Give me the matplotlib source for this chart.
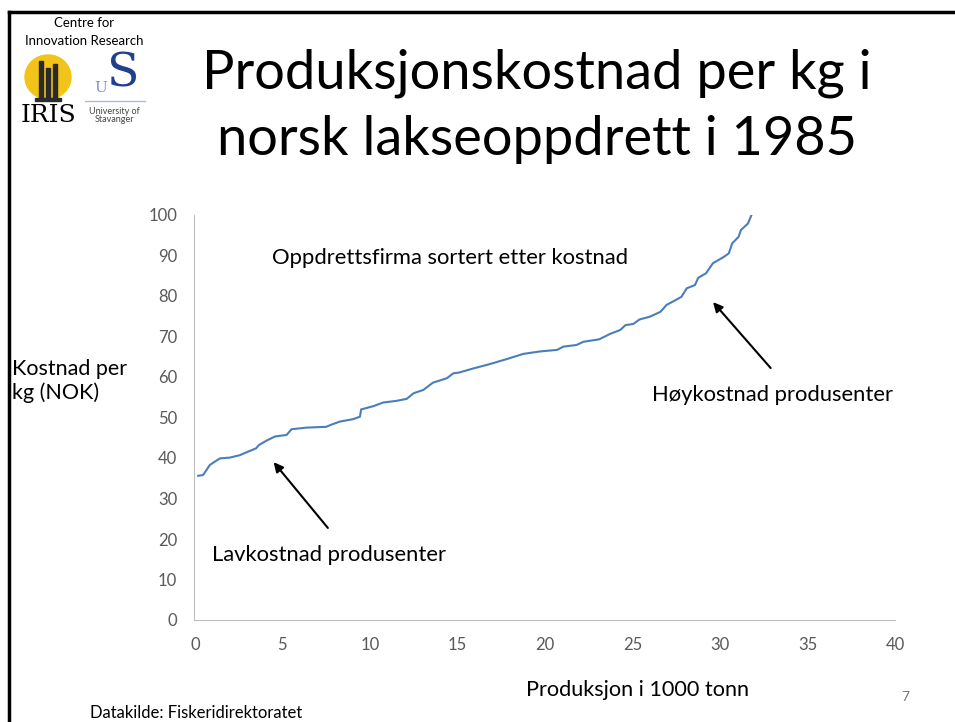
import matplotlib.pyplot as plt
from matplotlib.patches import Ellipse, Rectangle
from matplotlib.lines import Line2D

# production (1000 t), cumulative, and cost per kg (NOK)
prod = [0.19, 0.47, 0.86, 1.14, 1.43, 2.0, 2.57, 2.95, 3.5, 3.66, 4.1, 4.57, 5.24, 5.52,
        6.38, 7.5, 7.9, 8.29, 9.05, 9.43, 9.5, 10.2, 10.76, 11.5, 12.1, 12.5, 13.05,
        13.6, 14.4, 14.76, 15.1, 15.9, 16.86, 17.8, 18.76, 19.7, 20.7, 21.05, 21.8,
        22.2, 23.1, 23.7, 24.3, 24.6, 25.05, 25.4, 26.0, 26.6, 26.95, 27.3, 27.8,
        28.1, 28.57, 28.76, 29.2, 29.6, 30.2, 30.5, 30.7, 31.06, 31.2, 31.6, 31.8]
cost = [35.6, 35.8, 38.3, 39.1, 39.9, 40.1, 40.7, 41.4, 42.4, 43.2, 44.3, 45.3, 45.7, 47.1,
        47.5, 47.7, 48.4, 49.0, 49.6, 50.2, 52.0, 52.8, 53.7, 54.1, 54.6, 56.0, 56.8,
        58.6, 59.7, 60.9, 61.1, 62.1, 63.2, 64.4, 65.7, 66.3, 66.7, 67.5, 67.9,
        68.7, 69.3, 70.6, 71.6, 72.8, 73.1, 74.2, 74.9, 76.1, 77.8, 78.6, 79.8,
        81.9, 82.7, 84.5, 85.6, 88.1, 89.6, 90.5, 93.0, 94.6, 96.3, 97.9, 100.0]

xticks = [0, 5, 10, 15, 20, 25, 30, 35, 40]
yticks = [0, 10, 20, 30, 40, 50, 60, 70, 80, 90, 100]

plt.rcParams['font.family'] = ['Lato', 'DejaVu Sans']

W, H = 955, 722
fig = plt.figure(figsize=(W/100, H/100), dpi=100)

def fx(px):
    return px / W

def fy(py):
    return 1 - py / H

ax = fig.add_axes([fx(194), fy(620), fx(895) - fx(194), fy(215) - fy(620)])
ax.plot(prod, cost, color='#4a7ebb', linewidth=1.5)
ax.set_xlim(-0.05, 40)
ax.set_ylim(0, 100)
ax.set_xticks(xticks)
ax.set_yticks(yticks)
for s in ['top', 'right']:
    ax.spines[s].set_visible(False)
for s in ['left', 'bottom']:
    ax.spines[s].set_color('#bfbfbf')
ax.tick_params(length=0, labelsize=12, colors='#595959', pad=12)

ax.text(4.4, 89.5, 'Oppdrettsfirma sortert etter kostnad', fontsize=15.8, va='center')
ax.text(1.0, 16, 'Lavkostnad produsenter', fontsize=15.8, va='center')
ax.text(26.1, 55.5, 'Høykostnad produsenter', fontsize=15.8, va='center')
ax.annotate('', xy=(4.4, 39.5), xytext=(7.7, 22.2),
            arrowprops=dict(arrowstyle='-|>', color='black', lw=1.5, mutation_scale=14))
ax.annotate('', xy=(29.5, 79.0), xytext=(33.0, 61.7),
            arrowprops=dict(arrowstyle='-|>', color='black', lw=1.5, mutation_scale=14))

# slide texts
fig.text(fx(537), fy(73), 'Produksjonskostnad per kg i', fontsize=39, ha='center', va='center')
fig.text(fx(537), fy(140), 'norsk lakseoppdrett i 1985', fontsize=39, ha='center', va='center')
fig.text(fx(12), fy(381), 'Kostnad per\nkg (NOK)', fontsize=15.5, va='center', linespacing=1.2)
fig.text(fx(637), fy(690), 'Produksjon i 1000 tonn', fontsize=15.6, ha='center', va='center')
fig.text(fx(905), fy(697), '7', fontsize=10, color='#777777', ha='center', va='center')
fig.text(fx(90), fy(713), 'Datakilde: Fiskeridirektoratet', fontsize=12, va='center')

# slide frame
fig.add_artist(Line2D([fx(9), fx(9)], [fy(12), 0], color='black', lw=2.5))
fig.add_artist(Line2D([fx(9), 1], [fy(12), fy(12)], color='black', lw=2.5))

# logo
fig.text(fx(84), fy(23), 'Centre for', fontsize=9.5, ha='center', va='center')
fig.text(fx(84), fy(41), 'Innovation Research', fontsize=9.5, ha='center', va='center')
fig.add_artist(Ellipse((fx(48), fy(77)), 46 / W, 44 / H, transform=fig.transFigure,
                       color='#f2c318', zorder=2))
for x0, top in [(41, 61), (48, 68), (55, 64)]:
    fig.add_artist(Rectangle((fx(x0 - 2), fy(100)), 4 / W, (100 - top) / H,
                             transform=fig.transFigure, color='#2a2a2a', zorder=3))
fig.add_artist(Rectangle((fx(35), fy(101)), 26 / W, 3 / H, transform=fig.transFigure,
                         color='#2a2a2a', zorder=3))
fig.text(fx(49), fy(115), 'IRIS', fontsize=18, family='DejaVu Serif', ha='center', va='center')
fig.text(fx(123), fy(74), 'S', fontsize=34, family='DejaVu Serif', color='#1f3f8f',
         ha='center', va='center')
fig.text(fx(101), fy(88), 'U', fontsize=11, family='DejaVu Serif', color='#8090c8',
         ha='center', va='center')
fig.add_artist(Line2D([fx(85), fx(145)], [fy(101), fy(101)], color='#b0b8e0', lw=1))
fig.text(fx(114), fy(111), 'University of', fontsize=6.5, color='#444444', ha='center', va='center')
fig.text(fx(114), fy(120), 'Stavanger', fontsize=6.5, color='#444444', ha='center', va='center')

fig.savefig('out.png', dpi=100)
